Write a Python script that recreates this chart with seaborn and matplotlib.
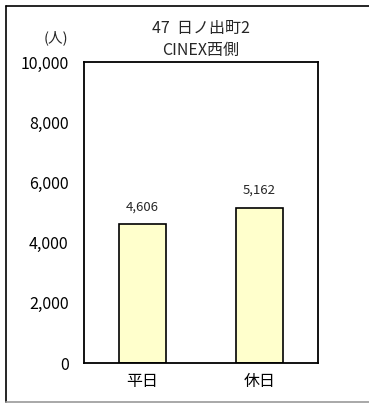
import pandas as pd
import seaborn as sns
import matplotlib.pyplot as plt
from matplotlib.lines import Line2D
from matplotlib.ticker import FuncFormatter

# data
categories = ['平日', '休日']
counts = [4606, 5162]
y_ticks = [0, 2000, 4000, 6000, 8000, 10000]

df = pd.DataFrame({'day': categories, 'people': counts})

sns.set_style('white')
plt.rcParams['font.family'] = ['Noto Sans CJK JP', 'DejaVu Sans']

fig = plt.figure(figsize=(3.69, 4.03), dpi=100)
ax = fig.add_axes([84 / 369, 1 - 363 / 403, 234 / 369, 301 / 403])

sns.barplot(x='day', y='people', data=df, color='#FFFFCC', edgecolor='black',
            linewidth=1.2, width=0.4, saturation=1, ax=ax)

ax.set_ylim(0, 10000)
ax.set_yticks(y_ticks)
ax.yaxis.set_major_formatter(FuncFormatter(lambda v, p: f'{int(v):,}'))
ax.tick_params(axis='both', length=0, labelsize=11.5, colors='black')
ax.tick_params(axis='y', pad=11)
ax.tick_params(axis='x', pad=7)
ax.set_xlabel('')
ax.set_ylabel('')
for s in ax.spines.values():
    s.set_color('black')
    s.set_linewidth(1.3)

# value labels
for i, v in enumerate(counts):
    ax.text(i, v + 350, f'{v:,}', ha='center', va='bottom', fontsize=9.5)

# title and unit
fig.text(201 / 369, 1 - 28 / 403, '47  日ノ出町2', ha='center', va='center', fontsize=11.5)
fig.text(201 / 369, 1 - 50 / 403, 'CINEX西側', ha='center', va='center', fontsize=11.5)
fig.text(56 / 369, 1 - 38 / 403, '(人)', ha='center', va='center', fontsize=10.5)

# outer frame
fig.add_artist(Line2D([5.5 / 369, 1], [1 - 5.5 / 403, 1 - 5.5 / 403], color='black', lw=1.2))
fig.add_artist(Line2D([5.5 / 369, 5.5 / 369], [1.5 / 403, 1 - 5.5 / 403], color='black', lw=1.2))
fig.add_artist(Line2D([5.5 / 369, 1], [1.5 / 403, 1.5 / 403], color='#999999', lw=1.2))

plt.savefig('out.png', dpi=100)
